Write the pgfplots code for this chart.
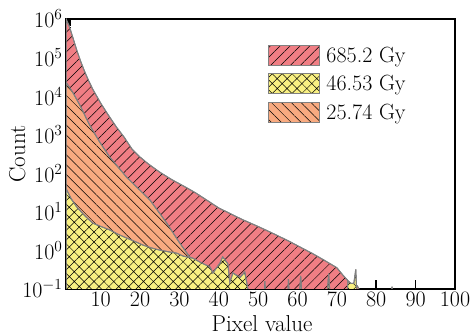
\RequirePackage{fix-cm}
\documentclass[border=0pt]{standalone}
\usepackage{fontspec}
\usepackage{pgfplots}
\pgfplotsset{compat=1.18}
\usetikzlibrary{patterns.meta}
\definecolor{redc}{RGB}{240,126,132}
\definecolor{yelc}{RGB}{249,240,130}
\definecolor{orac}{RGB}{248,170,128}
\definecolor{edgec}{RGB}{128,128,128}
\tikzset{
  redpat/.style={fill=redc, postaction={pattern={Lines[angle=45,distance=7pt,line width=0.5pt]}, pattern color=black}},
  orapat/.style={fill=orac, postaction={pattern={Lines[angle=-45,distance=7pt,line width=0.5pt]}, pattern color=black}},
  yelpat/.style={fill=yelc, postaction={pattern={Hatch[angle=45,distance=7pt,line width=0.5pt]}, pattern color=black}},
}
\begin{document}
\begin{tikzpicture}
\begin{axis}[
  at={(0,0)}, anchor=south west,
  scale only axis, width=389pt, height=270pt,
  ymode=log, xmin=1.2, xmax=100, ymin=0.1, ymax=1e6,
  xtick={10,20,...,100},
  ytick={0.1,1,10,100,1000,10000,100000,1000000},
  font=\fontsize{22}{26}\selectfont,
  axis line style={line width=2pt},
  tick align=inside, tick pos=left,
  major tick length=9pt, minor tick length=5pt,
  every tick/.style={black, line width=1.6pt},
  xlabel={Pixel value}, ylabel={Count},
  label style={font=\fontsize{23}{27}\selectfont},
  every axis y label/.append style={at={(axis description cs:-0.125,0.5)}, anchor=center},
  every axis x label/.append style={at={(axis description cs:0.504,-0.127)}, anchor=center},
  legend style={draw=none, fill=none, at={(axis description cs:0.52,0.905)}, anchor=north west, row sep=7.5pt, inner sep=0pt, font=\fontsize{22}{26}\selectfont,
    /tikz/every odd column/.append style={column sep=4pt}},
  legend cell align=left,
  legend image code/.code={\draw[#1, draw=edgec, line width=1pt] (0pt,-10pt) rectangle (51pt,10pt);},
]
\addlegendimage{redpat}
\addlegendentry{685.2 Gy}
\addlegendimage{yelpat}
\addlegendentry{46.53 Gy}
\addlegendimage{orapat}
\addlegendentry{25.74 Gy}

% 685.2 Gy
\addplot[draw=edgec, line width=1pt, redpat, forget plot] coordinates {
(1.2,0.01) (1.2,1e6) (2,6.6e5) (3,3.16e5) (4,1.48e5) (5,7.6e4) (6,4.17e4) (7,2.45e4)
(8,1.51e4) (10,6.6e3) (12,3.16e3) (14,1.58e3) (16,851) (18,417) (20,263) (22,178)
(25,107) (28,69) (31,47) (34,31.6) (37,20) (40,12.6) (43,8.9) (46,6.3) (50,4.17)
(54,2.69) (58,1.7) (61,1.17) (64,0.81) (67,0.54) (70,0.355) (71.6,0.224) (73.4,0.141)
(74.3,0.126) (75.2,0.12) (75.6,0.1) (75.7,0.01)
} -- cycle;

% 25.74 Gy
\addplot[draw=edgec, line width=1pt, orapat, forget plot] coordinates {
(1.2,0.01) (1.2,2.3e4) (2.9,1.26e4) (4.7,5.9e3) (7.2,1.78e3) (9.7,660) (12.3,263)
(16.6,79) (22.5,20.4) (26.8,5.1) (30,1.6) (32.6,0.68) (33.4,0.6) (34,0.3) (34.5,0.01)
} -- cycle;

% 46.53 Gy
\addplot[draw=edgec, line width=1pt, yelpat, forget plot] coordinates {
(1.2,0.01) (1.2,40) (2.5,22) (3.9,13.5) (6,7.9) (8,5.1) (10,4.2) (12.3,3.4) (14.5,2.6)
(16.6,2.1) (18.5,1.74) (20.7,1.38) (23,1.15) (25,1.02) (27,0.93) (29.3,0.85) (31,0.71)
(33.4,0.63) (35.2,0.5) (37.8,0.37) (38.5,0.26) (40.3,0.47) (41,0.68) (42.3,0.45)
(42.8,0.15) (43.6,0.26) (45.4,0.2) (46.6,0.275) (47.4,0.1) (47.6,0.01)
(51.2,0.01) (51.7,0.16) (52.2,0.01)
(57.2,0.01) (57.7,0.18) (58.2,0.01)
(60,0.01) (60.8,0.22) (61.6,0.01)
(67,0.01) (67.9,0.25) (68.8,0.01)
(72.3,0.01) (72.8,0.16) (73.5,0.14) (74.3,0.14) (74.8,0.32) (75.4,0.01)
(83.5,0.01) (84,0.115) (84.5,0.01)
} -- cycle;
\end{axis}
\pgfresetboundingbox
\path[use as bounding box] (-66pt,-47pt) rectangle (404pt,289pt);
\end{tikzpicture}
\end{document}
